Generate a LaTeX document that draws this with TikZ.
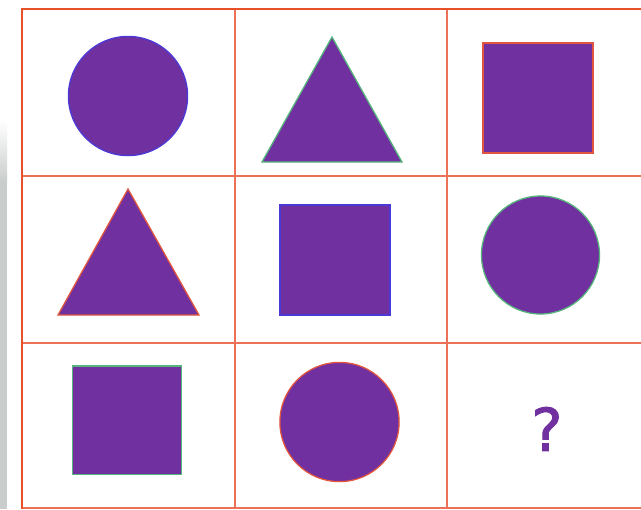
\documentclass[tikz,border=0pt]{standalone}
\usepackage{fontspec}
\newfontfamily\qfont[FakeBold=1.6]{DejaVu Sans}
\usepackage{xcolor}
\definecolor{figpurple}{HTML}{7030A0}
\definecolor{gridred}{HTML}{E8502A}
\definecolor{gridlight}{HTML}{EB7257}
\definecolor{edgeblue}{HTML}{4B3BD6}
\definecolor{edgegreen}{HTML}{55B57C}
\definecolor{edgered}{HTML}{E2563F}
\definecolor{sidegray}{HTML}{C9CDCB}
\usepackage{tikz}

\begin{document}
\begin{tikzpicture}[x=0.025cm, y=-0.025cm,
  fig/.style={fill=figpurple, line width=0.9pt},
  every node/.style={inner sep=0pt}]
\useasboundingbox (0,0) rectangle (641,509);
\fill[white] (0,0) rectangle (641,509);
% side strip
\fill[top color=white, bottom color=sidegray] (0,120) rectangle (7,182);
\fill[sidegray] (0,182) rectangle (7,509);
% grid
\foreach \x in {235,447}{
  \draw[gridlight, line width=0.9pt] (\x,9) -- (\x,509);
}
\foreach \y in {176,343,508}{
  \draw[gridlight, line width=0.9pt] (22,\y) -- (641,\y);
}
\draw[gridred, line width=1.9pt] (22,509) -- (22,9) -- (641,9);
% row 1
\filldraw[fig, draw=edgeblue] (128,96) circle (1.49cm);
\filldraw[fig, draw=edgegreen] (332,37) -- (402,162) -- (262,162) -- cycle;
\filldraw[fig, draw=edgered] (483,43) rectangle (593,153);
% row 2
\filldraw[fig, draw=edgered] (128,189) -- (199,315) -- (58,315) -- cycle;
\filldraw[fig, draw=edgeblue] (280,205) rectangle (390,315);
\filldraw[fig, draw=edgegreen] (540.5,255) circle (1.475cm);
% row 3
\filldraw[fig, draw=edgegreen] (72.5,366) rectangle (181.5,474.5);
\filldraw[fig, draw=edgered] (339.5,422) circle (1.49cm);
\node[text=figpurple, font=\qfont\fontsize{42}{48}\selectfont] (qmark) at (547,429) {?};
\end{tikzpicture}
\end{document}
